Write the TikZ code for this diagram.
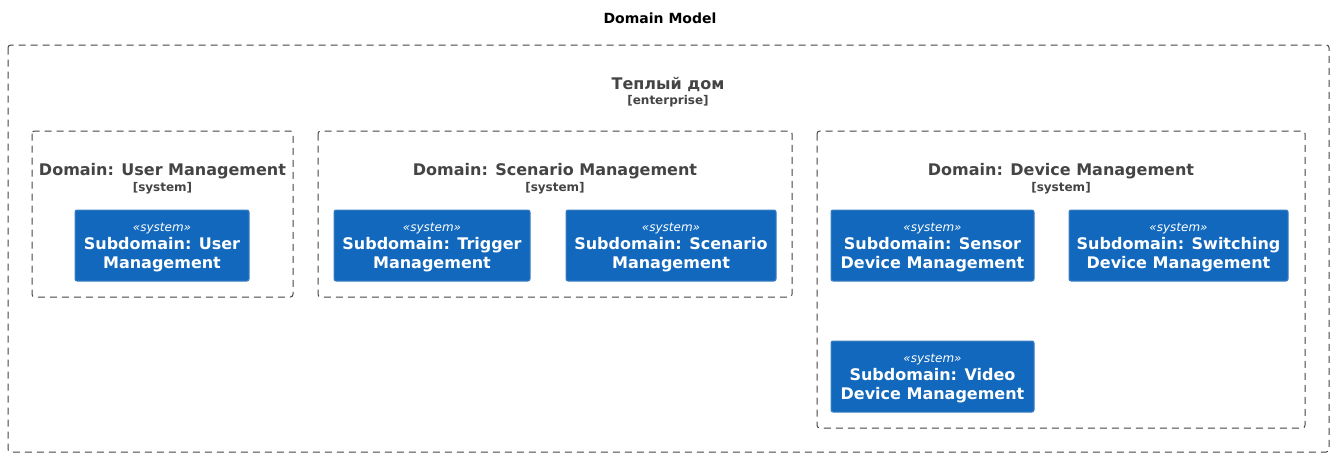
\documentclass[tikz,border=0pt]{standalone}
\usepackage{fontspec}
\setmainfont{DejaVu Sans}
\usetikzlibrary{positioning}
\definecolor{sysfill}{HTML}{1168BD}
\definecolor{sysline}{HTML}{3C7FC0}
\definecolor{grey}{HTML}{444444}
\tikzset{
  bnd/.style={draw=grey, line width=0.75pt, dash pattern=on 5.25pt off 3.75pt, rounded corners=2pt},
  sys/.style={draw=sysline, fill=sysfill, line width=0.75pt, rounded corners=1.5pt, text=white, align=center, inner sep=0pt},
  btitle/.style={text=grey, font=\fontsize{12}{14}\selectfont\bfseries, inner sep=0pt},
  btag/.style={text=grey, font=\fontsize{9}{10}\selectfont\bfseries, inner sep=0pt},
  stereo/.style={font=\fontsize{9}{11}\selectfont\itshape, inner sep=0pt, text=white},
  subname/.style={font=\fontsize{12}{14.25}\selectfont\bfseries, inner sep=0pt, text=white, align=center},
}

\begin{document}
\begin{tikzpicture}[x=0.75pt,y=-0.75pt]
  \useasboundingbox (0,0) rectangle (1334,457);
  \node[font=\fontsize{10.5}{12}\selectfont\bfseries, inner sep=0pt] (title) at (660,18) {Domain Model};
  % boundaries
  \draw[bnd] (8,45) rectangle (1329,452);
  \node[btitle] (ent) at (668,84) {Теплый дом};
  \node[btag, below=2.5pt of ent] (enttag) {[enterprise]};
  \foreach \n/\xa/\xb/\yb/\t in {usr/32/293/297/User Management,
      scn/318/792/297/Scenario Management,
      dev/817/1305/428/Device Management}{
    \draw[bnd] (\xa,131) rectangle (\xb,\yb);
    \node[btitle] (\n) at ({(\xa+\xb)/2},171) {Domain: \t};
    \node[btag, below=2.5pt of \n] (\n tag) {[system]};
  }
  % subdomains
  \foreach \n/\xl/\xr/\yt/\first/\second in {usrsub/75/249/210/User/Management,
      trg/334/530/210/Trigger/Management,
      scnsub/566/776/210/Scenario/Management,
      sns/831/1034/210/Sensor/Device Management,
      swt/1069/1288/210/Switching/Device Management,
      vid/831/1034/341/Video/Device Management}{
    \draw[sys] (\xl,\yt) rectangle (\xr,\yt+71);
    \node[stereo] (\n st) at ({(\xl+\xr)/2},\yt+18.5) {«system»};
    \node[subname, below=2.5pt of \n st] (\n) {Subdomain: \first\\\second};
  }
\end{tikzpicture}
\end{document}
